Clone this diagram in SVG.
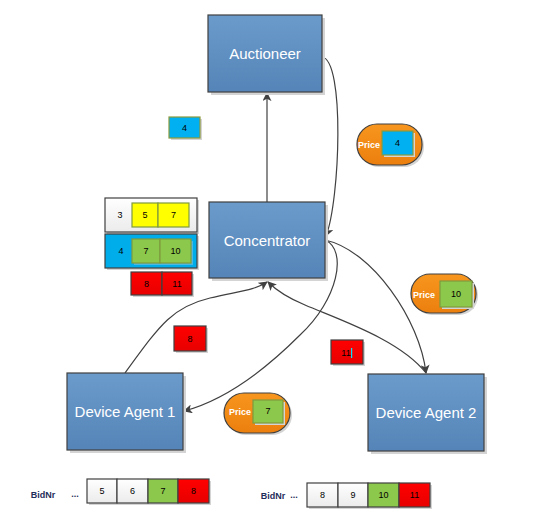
<svg xmlns="http://www.w3.org/2000/svg" width="544" height="522" viewBox="0 0 544 522">
<defs>
<linearGradient id="gNode" x1="0" y1="0" x2="0" y2="1"><stop offset="0" stop-color="#6B9BCB"/><stop offset="1" stop-color="#5584B8"/></linearGradient>
<linearGradient id="gOrange" x1="0" y1="0" x2="0" y2="1"><stop offset="0" stop-color="#F7961E"/><stop offset="1" stop-color="#EC7F0E"/></linearGradient>
<linearGradient id="gWhite" x1="0" y1="0" x2="0" y2="1"><stop offset="0" stop-color="#FFFFFF"/><stop offset="1" stop-color="#EBEBEB"/></linearGradient>
<linearGradient id="gRed" x1="0" y1="0" x2="0" y2="1"><stop offset="0" stop-color="#FF0000"/><stop offset="1" stop-color="#E80000"/></linearGradient>
<marker id="arr" viewBox="0 0 10 10" refX="9" refY="5" markerWidth="9" markerHeight="9" markerUnits="userSpaceOnUse" orient="auto"><path d="M0,0 L10,5 L0,10 L2.5,5 Z" fill="#404040"/></marker>
</defs>
<style>
.node{fill:url(#gNode);stroke:#404040;stroke-width:1.2}
.sh{fill:#D4D4D4}
.nt{font-family:"Liberation Sans",Arial,sans-serif;font-size:15px;fill:#FFFFFF;text-anchor:middle}
.conn{fill:none;stroke:#404040;stroke-width:1.2}
.t{font-family:"Liberation Sans",Arial,sans-serif;font-size:9px;fill:#000;text-anchor:middle}
.pt{font-family:"Liberation Sans",Arial,sans-serif;font-size:9px;font-weight:bold;fill:#FFFFFF;text-anchor:middle}
.bid{font-family:"Liberation Sans",Arial,sans-serif;font-size:9px;font-weight:bold;fill:#1F2D5A;text-anchor:middle}
.blue{fill:#00B0F0;stroke:#8C9A3C;stroke-width:1.2}
.green{fill:#8CC84B;stroke:#7F9A3E;stroke-width:1.2}
.yellow{fill:#FFFF00;stroke:#7F9A3E;stroke-width:1.2}
.red{fill:url(#gRed);stroke:#404040;stroke-width:1.2}
.white{fill:url(#gWhite);stroke:#404040;stroke-width:1.2}
.pill{fill:url(#gOrange);stroke:#404040;stroke-width:1.2}
</style>

<g id="connectors">
<path class="conn" d="M267,202 L267,93" marker-end="url(#arr)"/>
<path class="conn" d="M322,57 C345,60 340,200 326,236" marker-end="url(#arr)"/>
<path class="conn" d="M125,373 C160,325 172,307 210,298 C240,291 255,290 267,282" marker-end="url(#arr)"/>
<path class="conn" d="M325,240 C348,250 338,300 300,335 C265,370 225,400 184,411" marker-end="url(#arr)"/>
<path class="conn" d="M325,240 C372,250 420,320 426,373" marker-end="url(#arr)"/>
<path class="conn" d="M426,373 C400,340 340,320 305,305 C288,298 276,290 268,282" marker-end="url(#arr)"/>
</g>

<g id="auctioneer">
<rect class="sh" x="211" y="18" width="114" height="77"/>
<rect class="node" x="208" y="15" width="114" height="77"/>
<text class="nt" x="265" y="59">Auctioneer</text>
</g>

<g id="concentrator">
<rect class="sh" x="212" y="205" width="116" height="76"/>
<rect class="node" x="209" y="202" width="116" height="76"/>
<text class="nt" x="267" y="246">Concentrator</text>
</g>

<g id="device-agent-1">
<rect class="sh" x="70" y="376" width="116" height="77"/>
<rect class="node" x="67" y="373" width="116" height="77"/>
<text class="nt" x="125" y="417">Device Agent 1</text>
</g>

<g id="device-agent-2">
<rect class="sh" x="371" y="377" width="116" height="77"/>
<rect class="node" x="368" y="374" width="116" height="77"/>
<text class="nt" x="426" y="418">Device Agent 2</text>
</g>

<g id="label-4">
<rect class="sh" x="171" y="119" width="31" height="21"/>
<rect class="blue" x="169" y="117" width="31" height="21"/>
<text class="t" x="184.5" y="131">4</text>
</g>

<g id="price-4">
<rect class="sh" x="359" y="126" width="65" height="41" rx="20"/>
<rect class="pill" x="357" y="124" width="65" height="41" rx="20"/>
<text class="pt" x="369" y="148">Price</text>
<rect class="sh" x="384" y="133" width="31" height="24"/>
<rect class="blue" x="382" y="131" width="31" height="24"/>
<text class="t" x="397.5" y="146">4</text>
</g>

<g id="price-10">
<rect class="sh" x="413" y="276" width="65" height="39" rx="19"/>
<rect class="pill" x="411" y="274" width="65" height="39" rx="19"/>
<text class="pt" x="424" y="298">Price</text>
<rect class="sh" x="442" y="283" width="32" height="26"/>
<rect class="green" x="440" y="281" width="32" height="26"/>
<text class="t" x="456" y="297">10</text>
</g>

<g id="price-7">
<rect class="sh" x="226" y="395" width="66" height="40" rx="20"/>
<rect class="pill" x="224" y="393" width="66" height="40" rx="20"/>
<text class="pt" x="240" y="415">Price</text>
<rect class="sh" x="255" y="402" width="30" height="23"/>
<rect class="green" x="253" y="400" width="30" height="23"/>
<text class="t" x="268" y="414">7</text>
</g>

<g id="stack-3">
<rect class="sh" x="107" y="200" width="92" height="34"/>
<rect class="white" x="105" y="198" width="92" height="34"/>
<text class="t" x="120" y="218">3</text>
<rect class="yellow" x="132" y="203" width="26" height="24"/>
<rect class="yellow" x="158" y="203" width="31" height="24"/>
<text class="t" x="145" y="218">5</text>
<text class="t" x="173.5" y="218">7</text>
</g>

<g id="stack-4">
<rect class="sh" x="107" y="236" width="92" height="34"/>
<rect fill="#00ADEB" stroke="#404040" stroke-width="1.2" x="105" y="234" width="92" height="34"/>
<text class="t" x="121" y="254">4</text>
<rect fill="#4FB6DE" x="134" y="241" width="59" height="24"/>
<rect class="green" x="132" y="239" width="28" height="24"/>
<rect class="green" x="160" y="239" width="31" height="24"/>
<text class="t" x="146" y="254">7</text>
<text class="t" x="175.5" y="254">10</text>
</g>

<g id="stack-red">
<rect class="sh" x="133" y="274" width="61" height="23"/>
<rect class="red" x="131" y="272" width="31" height="23"/>
<rect class="red" x="162" y="272" width="30" height="23"/>
<text class="t" x="146.5" y="287">8</text>
<text class="t" x="177" y="287">11</text>
</g>

<g id="bid-8">
<rect class="sh" x="176" y="328" width="32" height="25"/>
<rect class="red" x="174" y="326" width="32" height="25"/>
<text class="t" x="190" y="342">8</text>
</g>

<g id="bid-11">
<rect class="sh" x="333" y="342" width="32" height="24"/>
<rect class="red" x="331" y="340" width="32" height="24"/>
<text class="t" x="346" y="356">11</text>
<rect fill="#00E5FF" x="351" y="348" width="1.2" height="10"/>
</g>

<g id="bidnr-row-1">
<text class="bid" x="43" y="498">BidNr</text>
<text class="bid" x="75" y="497">...</text>
<rect class="sh" x="89" y="481" width="122" height="24"/>
<rect class="white" x="87" y="479" width="30" height="24"/>
<rect class="white" x="117" y="479" width="31" height="24"/>
<rect class="green" x="148" y="479" width="30" height="24" style="stroke:#404040"/>
<rect class="red" x="178" y="479" width="31" height="24"/>
<text class="t" x="102" y="494">5</text>
<text class="t" x="132.5" y="494">6</text>
<text class="t" x="163" y="494">7</text>
<text class="t" x="193.5" y="494">8</text>
</g>

<g id="bidnr-row-2">
<text class="bid" x="273" y="499">BidNr</text>
<text class="bid" x="294" y="498">...</text>
<rect class="sh" x="309" y="485" width="123" height="24"/>
<rect class="white" x="307" y="483" width="31" height="24"/>
<rect class="white" x="338" y="483" width="30" height="24"/>
<rect class="green" x="368" y="483" width="31" height="24" style="stroke:#404040"/>
<rect class="red" x="399" y="483" width="31" height="24"/>
<text class="t" x="322.5" y="498">8</text>
<text class="t" x="353" y="498">9</text>
<text class="t" x="383.5" y="498">10</text>
<text class="t" x="414.5" y="498">11</text>
</g>
</svg>
